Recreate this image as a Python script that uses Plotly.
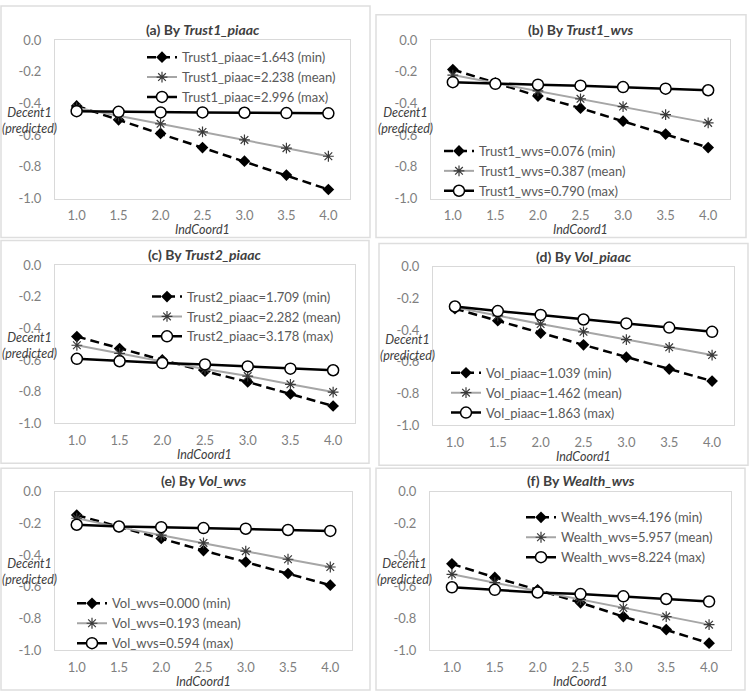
import plotly.graph_objects as go

W, H = 753, 699
FONT = "Lato"

x_labels = ["1.0", "1.5", "2.0", "2.5", "3.0", "3.5", "4.0"]
y_tickvals = [0.0, -0.2, -0.4, -0.6, -0.8, -1.0]
y_ticktext = ["0.0", "-0.2", "-0.4", "-0.6", "-0.8", "-1.0"]

titles = [
    "(a) By <i>Trust1_piaac</i>",
    "(b) By <i>Trust1_wvs</i>",
    "(c) By <i>Trust2_piaac</i>",
    "(d) By <i>Vol_piaac</i>",
    "(e) By <i>Vol_wvs</i>",
    "(f) By <i>Wealth_wvs</i>",
]

names_a = ["Trust1_piaac=1.643 (min)", "Trust1_piaac=2.238 (mean)", "Trust1_piaac=2.996 (max)"]
min_a = [-0.415, -0.503, -0.589, -0.678, -0.764, -0.852, -0.943]
mean_a = [-0.426, -0.477, -0.528, -0.579, -0.630, -0.682, -0.733]
max_a = [-0.448, -0.452, -0.456, -0.456, -0.458, -0.460, -0.462]

names_b = ["Trust1_wvs=0.076 (min)", "Trust1_wvs=0.387 (mean)", "Trust1_wvs=0.790 (max)"]
min_b = [-0.185, -0.270, -0.353, -0.429, -0.511, -0.593, -0.678]
mean_b = [-0.220, -0.270, -0.320, -0.370, -0.419, -0.470, -0.522]
max_b = [-0.265, -0.275, -0.281, -0.287, -0.296, -0.306, -0.316]

names_c = ["Trust2_piaac=1.709 (min)", "Trust2_piaac=2.282 (mean)", "Trust2_piaac=3.178 (max)"]
min_c = [-0.452, -0.528, -0.600, -0.671, -0.739, -0.815, -0.891]
mean_c = [-0.507, -0.559, -0.610, -0.657, -0.702, -0.754, -0.803]
max_c = [-0.593, -0.608, -0.620, -0.628, -0.641, -0.655, -0.665]

names_d = ["Vol_piaac=1.039 (min)", "Vol_piaac=1.462 (mean)", "Vol_piaac=1.863 (max)"]
min_d = [-0.264, -0.340, -0.418, -0.492, -0.570, -0.645, -0.721]
mean_d = [-0.254, -0.309, -0.361, -0.410, -0.459, -0.508, -0.557]
max_d = [-0.250, -0.279, -0.303, -0.332, -0.357, -0.383, -0.410]

names_e = ["Vol_wvs=0.000 (min)", "Vol_wvs=0.193 (mean)", "Vol_wvs=0.594 (max)"]
min_e = [-0.148, -0.220, -0.296, -0.372, -0.444, -0.517, -0.591]
mean_e = [-0.168, -0.224, -0.275, -0.324, -0.376, -0.427, -0.476]
max_e = [-0.209, -0.220, -0.224, -0.230, -0.234, -0.242, -0.248]

names_f = ["Wealth_wvs=4.196 (min)", "Wealth_wvs=5.957 (mean)", "Wealth_wvs=8.224 (max)"]
min_f = [-0.456, -0.542, -0.620, -0.702, -0.789, -0.871, -0.957]
mean_f = [-0.522, -0.575, -0.630, -0.682, -0.735, -0.789, -0.840]
max_f = [-0.604, -0.620, -0.637, -0.647, -0.661, -0.678, -0.694]

panels = [
    (names_a, min_a, mean_a, max_a),
    (names_b, min_b, mean_b, max_b),
    (names_c, min_c, mean_c, max_c),
    (names_d, min_d, mean_d, max_d),
    (names_e, min_e, mean_e, max_e),
    (names_f, min_f, mean_f, max_f),
]

# layout geometry in pixels: plot area (x0, x1, ytop, ybottom)
plot_px = [
    (55, 350, 33, 195),
    (431, 730, 33, 195),
    (55, 355, 263, 425),
    (433, 734, 265, 427),
    (55, 352, 495, 657),
    (430, 731, 495, 657),
]
# panel frames (x0, x1, ytop, ybottom)
frame_px = [
    (1, 370, -2, 235),
    (376, 746, 7, 235),
    (1, 369, 238, 466),
    (379, 748, 241, 468),
    (1, 370, 471, 698),
    (376, 745, 471, 698),
]
# legend: left px of item, top px
legend_px = [
    (142, 35),
    (439, 131),
    (147, 280),
    (446, 358),
    (72, 594),
    (521, 506),
]


def px(x):
    return x / W


def py(y):
    return 1 - y / H


fig = go.Figure()
annotations = []
shapes = []

for i, (names, ymin, ymean, ymax) in enumerate(panels):
    k = i + 1
    xa = "x" if k == 1 else f"x{k}"
    ya = "y" if k == 1 else f"y{k}"
    lg = "legend" if k == 1 else f"legend{k}"
    fig.add_trace(go.Scatter(
        x=x_labels, y=ymin, name=names[0], xaxis=xa, yaxis=ya, legend=lg,
        mode="lines+markers",
        line=dict(color="black", width=2.5, dash="9px,5px"),
        marker=dict(symbol="diamond", size=9, color="black"),
    ))
    fig.add_trace(go.Scatter(
        x=x_labels, y=ymean, name=names[1], xaxis=xa, yaxis=ya, legend=lg,
        mode="lines+markers",
        line=dict(color="#a6a6a6", width=2),
        marker=dict(symbol="asterisk-open", size=9, color="#3a3a3a",
                    line=dict(color="#3a3a3a", width=1.2)),
    ))
    fig.add_trace(go.Scatter(
        x=x_labels, y=ymax, name=names[2], xaxis=xa, yaxis=ya, legend=lg,
        mode="lines+markers",
        line=dict(color="black", width=2.5),
        marker=dict(symbol="circle", size=11, color="white",
                    line=dict(color="black", width=1.5)),
    ))

    x0, x1, yt, yb = plot_px[i]
    axis_common = dict(showgrid=False, zeroline=False, showline=True, mirror=True,
                       linecolor="#d9d9d9", linewidth=1,
                       tickfont=dict(family=FONT, size=13, color="#7f7f7f"))
    xkey = "xaxis" if k == 1 else f"xaxis{k}"
    ykey = "yaxis" if k == 1 else f"yaxis{k}"
    fig.update_layout(**{
        xkey: dict(domain=[px(x0), px(x1)], anchor=ya, type="category",
                   ticklabelstandoff=5, **axis_common),
        ykey: dict(domain=[py(yb), py(yt)], anchor=xa, range=[-1.0, 0.0],
                   tickvals=y_tickvals, ticktext=y_ticktext,
                   ticklabelstandoff=10, **axis_common),
    })
    leg_x, leg_y = legend_px[i]
    fig.update_layout(**{lg: dict(
        x=px(leg_x), y=py(leg_y), xanchor="left", yanchor="top",
        bgcolor="rgba(0,0,0,0)", borderwidth=0,
        font=dict(family=FONT, size=13, color="#595959"),
        tracegroupgap=0,
    )})

    cx = (x0 + x1) / 2
    annotations.append(dict(
        text=f"<b>{titles[i]}</b>", x=px(cx), y=py(yt - 11), xref="paper", yref="paper",
        showarrow=False, xanchor="center", yanchor="middle",
        font=dict(family=FONT, size=14, color="#404040"),
    ))
    annotations.append(dict(
        text="<i>IndCoord1</i>", x=px(cx), y=py(yb + 32), xref="paper", yref="paper",
        showarrow=False, xanchor="center", yanchor="middle",
        font=dict(family=FONT, size=12.5, color="#404040"),
    ))
    annotations.append(dict(
        text="<i>Decent1<br>(predicted)</i>", x=px(x0 - 26), y=py(yt + 82),
        xref="paper", yref="paper", showarrow=False, xanchor="center", yanchor="middle",
        font=dict(family=FONT, size=12.5, color="#404040"),
    ))

    fx0, fx1, fyt, fyb = frame_px[i]
    shapes.append(dict(type="rect", xref="paper", yref="paper",
                       x0=px(fx0), x1=px(fx1), y0=py(fyb), y1=py(fyt),
                       line=dict(color="#dedede", width=1.5), layer="below"))

fig.update_layout(
    width=W, height=H,
    margin=dict(l=0, r=0, t=0, b=0),
    paper_bgcolor="white", plot_bgcolor="white",
    annotations=annotations, shapes=shapes,
    font=dict(family=FONT),
)

fig.write_html("out.html")
